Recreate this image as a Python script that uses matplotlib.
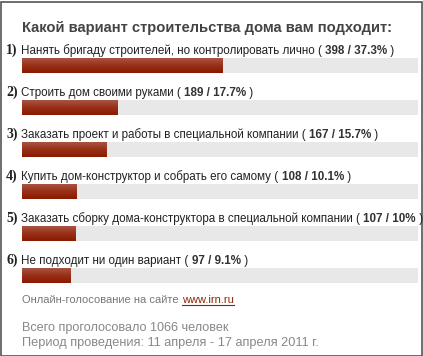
import matplotlib
matplotlib.use("Agg")
import matplotlib.pyplot as plt
import numpy as np

# data
title = "Какой вариант строительства дома вам подходит:"
options = [
    "Нанять бригаду строителей, но контролировать лично",
    "Строить дом своими руками",
    "Заказать проект и работы в специальной компании",
    "Купить дом-конструктор и собрать его самому",
    "Заказать сборку дома-конструктора в специальной компании",
    "Не подходит ни один вариант",
]
votes = [398, 189, 167, 108, 107, 97]
percents = [37.3, 17.7, 15.7, 10.1, 10, 9.1]
total_votes = 1066
period = "11 апреля - 17 апреля 2011 г."
site = "www.irn.ru"

W, H = 423, 356
fig = plt.figure(figsize=(W / 100, H / 100), dpi=100)
fig.patch.set_facecolor("white")

def fx(x):
    return x / W

def fy(y):
    return 1 - y / H

# frame
frame = plt.Rectangle((0.5 / W, 0.5 / H), 1 - 2.0 / W, 1 - 2.0 / H, transform=fig.transFigure,
                      fill=False, edgecolor="#555555", linewidth=1.2)
fig.add_artist(frame)

# bars axes
spacing = 42.0
bar_h = 15.0 / spacing
n = len(options)
top_px, bot_px = 58, 58 + (n - 1 + bar_h) * spacing
ax = fig.add_axes([fx(22), fy(bot_px), fx(418) - fx(22), (bot_px - top_px) / H])
xmax = 396 / 5.37
ax.axis("off")

ypos = np.arange(n)
ax.barh(ypos, [xmax] * n, height=bar_h, color="#e8e8e8", left=0)
bars = ax.barh(ypos, percents, height=bar_h, color="#8c1f05")
grad = np.linspace(0, 1, 50).reshape(-1, 1)
cmap = matplotlib.colors.LinearSegmentedColormap.from_list("g", ["#a85442", "#982f18", "#8a1a00"])
for b, y, p in zip(bars, ypos, percents):
    im = ax.imshow(grad, extent=(0, p, y + bar_h / 2, y - bar_h / 2), aspect="auto",
                   cmap=cmap, origin="upper", zorder=3)
    im.set_clip_path(b)
ax.set_xlim(0, xmax)
ax.set_ylim(n - 1 + bar_h / 2, -bar_h / 2)

fig.canvas.draw()
renderer = fig.canvas.get_renderer()

SANS = "Liberation Sans"

def run_text(x, y, parts, size, family=SANS):
    # draws consecutive text pieces on one baseline
    for s, weight, color in parts:
        t = fig.text(fx(x), fy(y), s, fontsize=size, fontweight=weight, color=color,
                     family=family, va="baseline", ha="left")
        bb = t.get_window_extent(renderer)
        x += bb.width
    return x

fig.text(fx(22), fy(32), title, fontsize=10.6, fontweight="bold", color="#444444",
         family=SANS, va="baseline")

for i, (opt, v, p) in enumerate(zip(options, votes, percents)):
    base = 54 + i * spacing
    fig.text(fx(6), fy(base), f"{i + 1})", fontsize=10, fontweight="bold",
             family="Liberation Serif", color="#222222", va="baseline")
    pct = f"{p:g}%"
    run_text(21, base, [(opt + " ( ", "normal", "#222222"),
                        (f"{v} / {pct}", "bold", "#333333"),
                        (" )", "normal", "#222222")], 8.35)

xe = run_text(22, 303, [("Онлайн-голосование на сайте ", "normal", "#777777")], 8.0)
t = fig.text(fx(xe), fy(303), site, fontsize=8.0, color="#8b2500", family=SANS,
             va="baseline")
bb = t.get_window_extent(renderer)
fig.add_artist(plt.Line2D([fx(xe), fx(xe) + bb.width / W], [fy(305), fy(305)],
                          transform=fig.transFigure, color="#8b2500", linewidth=0.8))

fig.text(fx(22), fy(331), f"Всего проголосовало {total_votes} человек", fontsize=9.1,
         color="#888888", family=SANS, va="baseline")
fig.text(fx(22), fy(346), f"Период проведения: {period}", fontsize=9.2,
         color="#888888", family=SANS, va="baseline")

fig.savefig("out.png", dpi=100)
